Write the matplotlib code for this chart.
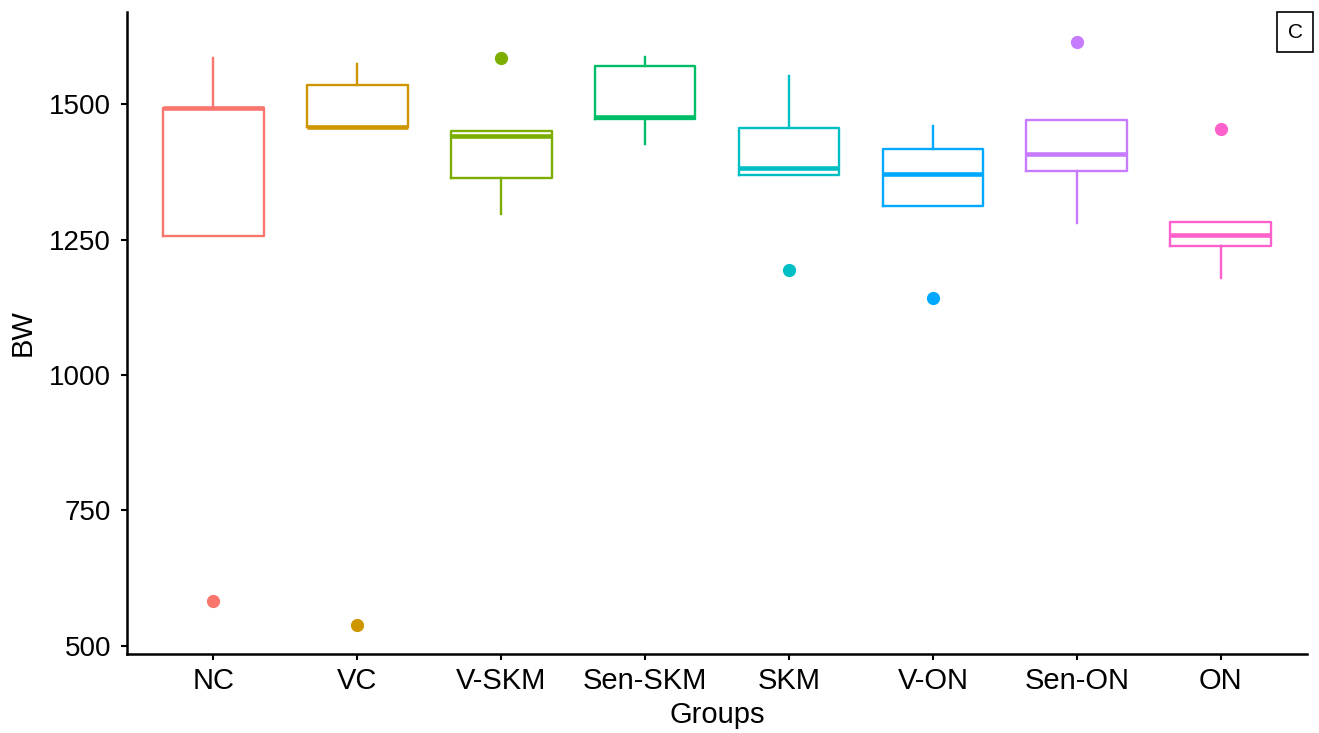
import matplotlib.pyplot as plt

plt.rcParams['font.family'] = ['Liberation Sans', 'DejaVu Sans']

# Groups and box statistics
groups = ['NC', 'VC', 'V-SKM', 'Sen-SKM', 'SKM', 'V-ON', 'Sen-ON', 'ON']
whis_lo = [1256, 1458, 1297, 1426, 1369, 1312, 1280, 1179]
q1 = [1256, 1458, 1363, 1472, 1369, 1312, 1376, 1238]
medians = [1493, 1458, 1441, 1476, 1382, 1371, 1408, 1259]
q3 = [1493, 1535, 1450, 1570, 1456, 1417, 1470, 1282]
whis_hi = [1585, 1574, 1450, 1587, 1552, 1459, 1470, 1282]
outliers = [[583], [539], [1585], [], [1194], [1142], [1615], [1454]]

colors = ['#F8766D', '#CD9600', '#7CAE00', '#00BE67', '#00BFC4', '#00A9FF', '#C77CFF', '#FF61CC']

fig = plt.figure(figsize=(13.19, 7.33), dpi=100)
ax = fig.add_axes([0.0963, 0.1078, 0.8947, 0.8758])

for i, g in enumerate(groups):
    stats = [{'label': g, 'whislo': whis_lo[i], 'q1': q1[i], 'med': medians[i],
              'q3': q3[i], 'whishi': whis_hi[i], 'fliers': outliers[i]}]
    c = colors[i]
    ax.bxp(stats, positions=[i + 1], widths=0.7, showcaps=False,
           boxprops=dict(color=c, linewidth=1.7),
           whiskerprops=dict(color=c, linewidth=1.7),
           medianprops=dict(color=c, linewidth=3.3),
           flierprops=dict(marker='o', markerfacecolor=c, markeredgecolor=c,
                           markersize=8.5, linestyle='none'))

ax.set_xlim(0.4, 8.6)
ax.set_ylim(485, 1670)
ax.set_xticks(range(1, len(groups) + 1))
ax.set_xticklabels(groups)
ax.set_yticks([500, 750, 1000, 1250, 1500])
ax.tick_params(width=1.5, length=4.5, color='black')
ax.tick_params(axis='x', labelsize=21, pad=5)
ax.tick_params(axis='y', labelsize=20, pad=7)
ax.set_xlabel('Groups', fontsize=21, labelpad=4)
ax.set_ylabel('BW', fontsize=21, labelpad=9)

for side in ['top', 'right']:
    ax.spines[side].set_visible(False)
for side in ['left', 'bottom']:
    ax.spines[side].set_linewidth(1.8)

# panel letter
fig.text(0.982, 0.956, 'C', fontsize=15, ha='center', va='center',
         bbox=dict(boxstyle='square,pad=0.5', facecolor='white', edgecolor='black', linewidth=1.2))

fig.savefig('out.png', dpi=100)
